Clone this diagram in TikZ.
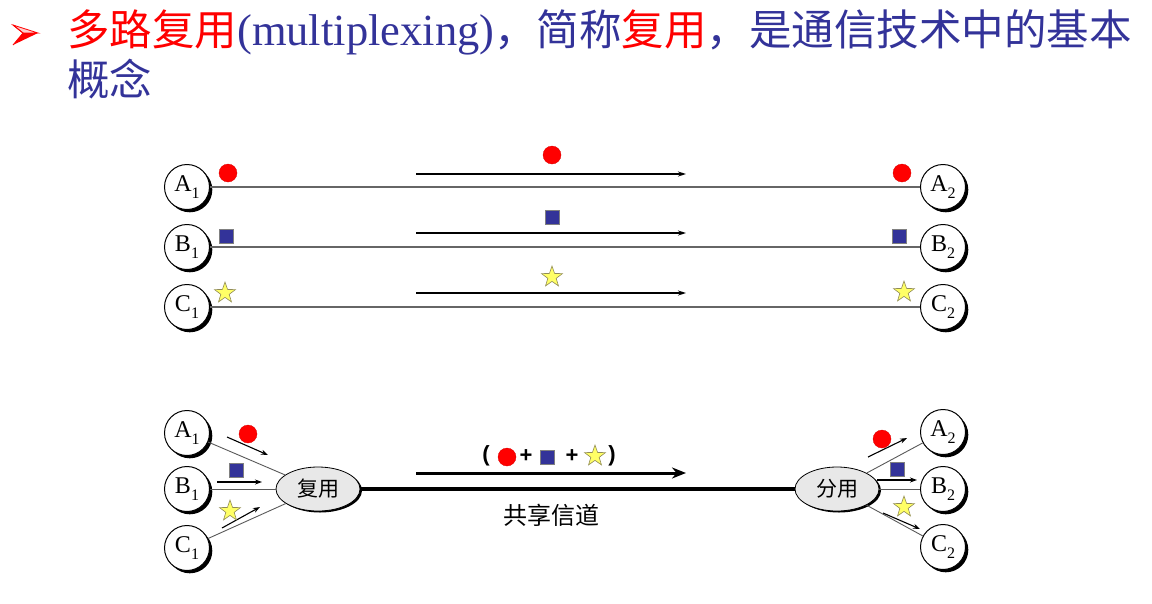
\documentclass[tikz,border=0pt]{standalone}
\usepackage{fontspec}
\setmainfont{Liberation Serif}
\newfontfamily\cjk{Noto Sans CJK SC}
\newfontfamily\sansf{Liberation Sans}
\usetikzlibrary{shapes.geometric,arrows.meta}
\definecolor{tblue}{RGB}{51,51,153}
\definecolor{sqblue}{RGB}{51,51,153}
\definecolor{staryel}{RGB}{255,255,102}
\newcommand{\mysub}[1]{\raisebox{-7pt}{\fontsize{16}{16}\selectfont #1}}
\begin{document}
\begin{tikzpicture}[x=1pt,y=-1pt,
  station/.style={circle, draw=black, line width=1pt, fill=white, minimum size=45, inner sep=0pt,
    font=\fontsize{24}{24}\selectfont,
    preaction={fill=black, transform canvas={xshift=2.8pt,yshift=-2.8pt}}},
  muxbox/.style={ellipse, draw=black, line width=0.8pt, fill=gray!18, minimum width=84, minimum height=44, inner sep=0pt,
    font=\cjk\fontsize{21}{21}\selectfont,
    preaction={fill=black, transform canvas={xshift=2pt,yshift=-1.5pt}}},
  link/.style={draw=gray!80!black, line width=1.1pt},
  slink/.style={draw=gray!70!black, line width=0.9pt},
  sarrow/.style={draw=black, line width=1.3pt, -{Stealth[length=8pt,width=5pt]}},
  tarrow/.style={draw=black, line width=1.1pt, -{Stealth[length=7pt,width=5pt]}},
  dot/.style={circle, fill=red, draw=red!85!black, line width=0.3pt, minimum size=18, inner sep=0pt},
  sq/.style={rectangle, fill=sqblue, draw=gray, line width=0.3pt, minimum size=14, inner sep=0pt},
  st/.style={star, star points=5, star point ratio=2.5, fill=staryel, draw=gray!60!olive, line width=0.6pt, minimum size=22, inner sep=0pt},
  plus/.style={inner sep=0pt, font=\sansf\bfseries\fontsize{22}{22}\selectfont}
]
\useasboundingbox (0,0) rectangle (1152,603);

% title
\filldraw[fill=red!20, draw=red, line width=0.8pt] (13,25) -- (38,33) -- (23,33) -- cycle;
\fill[red] (23,33) -- (38,33) -- (13,45) -- cycle;
\draw[red, line width=0.8pt] (13,25) -- (23,33) -- (13,45);
\node[anchor=base west, inner sep=0pt, font=\fontsize{42.5}{50}\selectfont] (title1) at (67,45)
  {{\cjk\color{red}多路复用}{\color{tblue}\fontsize{44.5}{50}\selectfont(multiplexing)}{\cjk\color{tblue}，简称}{\cjk\color{red}复用}{\cjk\color{tblue}，是通信技术中的基本}};
\node[anchor=base west, inner sep=0pt, font=\fontsize{42.5}{50}\selectfont] (title2) at (67,95)
  {\cjk\color{tblue}概念};

% top section
\node[station] (A1) at (187,187) {A\mysub{1}};
\node[station] (B1) at (187,247) {B\mysub{1}};
\node[station] (C1) at (187,307) {C\mysub{1}};
\node[station] (A2) at (943,187) {A\mysub{2}};
\node[station] (B2) at (943,247) {B\mysub{2}};
\node[station] (C2) at (943,307) {C\mysub{2}};
\draw[link] (A1) -- (A2);
\draw[link] (B1) -- (B2);
\draw[link] (C1) -- (C2);

\coordinate (ta1) at (416,174); \coordinate (ta2) at (686,174);
\coordinate (tb1) at (416,233); \coordinate (tb2) at (686,233);
\coordinate (tc1) at (416,293); \coordinate (tc2) at (686,293);
\draw[sarrow] (ta1) -- (ta2);
\draw[sarrow] (tb1) -- (tb2);
\draw[sarrow] (tc1) -- (tc2);

\node[dot] (da) at (552,155) {};
\node[sq] (sa) at (552,217) {};
\node[st] (sta) at (552,277) {};
\node[dot] (dl) at (228,173) {};
\node[sq] (sl) at (226,236) {};
\node[st] (stl) at (225,293) {};
\node[dot] (dr) at (902,173) {};
\node[sq] (sr) at (899,236) {};
\node[st] (str) at (904,292) {};

% bottom section
\node[station] (A1b) at (187,433) {A\mysub{1}};
\node[station] (B1b) at (187,489) {B\mysub{1}};
\node[station] (C1b) at (187,548) {C\mysub{1}};
\node[station] (A2b) at (943,432) {A\mysub{2}};
\node[station] (B2b) at (943,489) {B\mysub{2}};
\node[station] (C2b) at (943,547) {C\mysub{2}};
\node[muxbox] (mux) at (318,489) {复用};
\node[muxbox] (demux) at (837,489) {分用};

\draw[line width=4pt] (mux) -- (demux);
\draw[slink] (A1b) -- (mux);
\draw[slink] (B1b) -- (mux);
\draw[slink] (C1b) -- (mux);
\draw[slink] (demux) -- (A2b);
\draw[slink] (demux) -- (B2b);
\draw[slink] (demux) -- (C2b);

\coordinate (ba1) at (416,473); \coordinate (ba2) at (686,473);
\draw[line width=3pt, -{Stealth[length=14pt,width=11pt]}] (ba1) -- (ba2);

\coordinate (xa1) at (227,437); \coordinate (xa2) at (268,455);
\coordinate (xb1) at (217,482); \coordinate (xb2) at (262,482);
\coordinate (xc1) at (222,528); \coordinate (xc2) at (260,507);
\draw[tarrow] (xa1) -- (xa2);
\draw[tarrow] (xb1) -- (xb2);
\draw[tarrow] (xc1) -- (xc2);
\coordinate (ya1) at (868,457); \coordinate (ya2) at (907,438);
\coordinate (yb1) at (877,480); \coordinate (yb2) at (917,480);
\coordinate (yc1) at (883,513); \coordinate (yc2) at (920,529);
\draw[tarrow] (ya1) -- (ya2);
\draw[tarrow] (yb1) -- (yb2);
\draw[tarrow] (yc1) -- (yc2);

\node[dot] (bdl) at (248,434) {};
\node[sq] (bsl) at (236,470) {};
\node[st] (bstl) at (230,511) {};
\node[dot] (bdr) at (882,439) {};
\node[sq] (bsr) at (897,469) {};
\node[st] (bstr) at (904,507) {};

% legend
\node[plus] (lp) at (486,456) {(};
\node[dot] (ld) at (507,457) {};
\node[plus] (p1) at (526,456) {+};
\node[sq] (ls) at (547,457) {};
\node[plus] (p2) at (572,456) {+};
\node[st] (lst) at (595,456) {};
\node[plus] (rp) at (612,456) {)};

\node[font=\cjk\fontsize{24}{24}\selectfont, inner sep=0pt] (chan) at (551,515) {共享信道};
\end{tikzpicture}
\end{document}
